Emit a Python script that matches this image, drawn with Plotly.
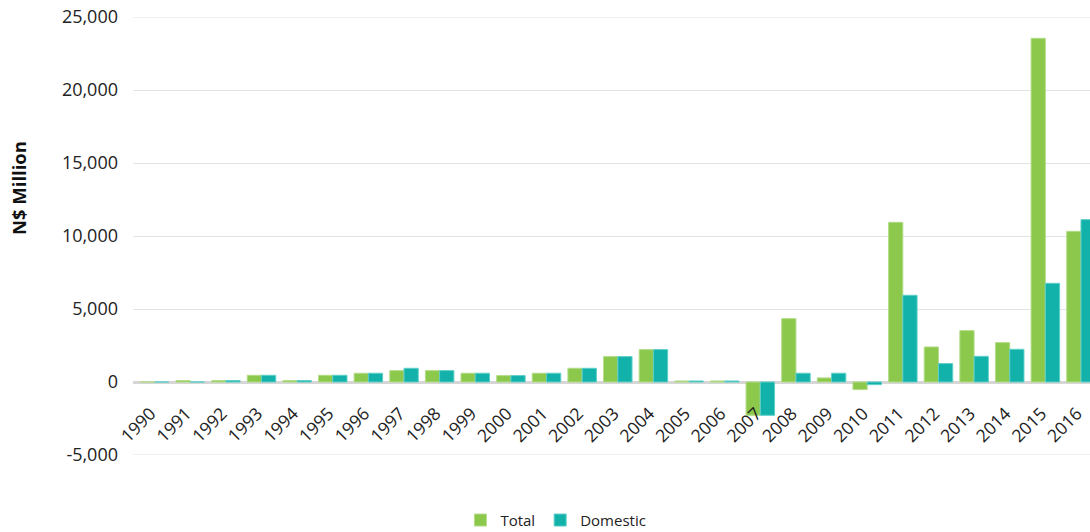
import plotly.graph_objects as go

years = [str(y) for y in range(1990, 2017)]
total = [0, 100, 100, 460, 100, 460, 600, 780, 780, 600, 440, 600, 940, 1740, 2220,
         70, 70, -2280, 4340, 280, -520, 10940, 2400, 3520, 2700, 23540, 10320]
domestic = [0, 0, 100, 460, 100, 460, 600, 940, 780, 600, 440, 600, 940, 1740, 2220,
            70, 70, -2280, 600, 600, -180, 5940, 1260, 1760, 2240, 6760, 11120]
y_ticks = [-5000, 0, 5000, 10000, 15000, 20000, 25000]
y_labels = ["-5,000", "0", "5,000", "10,000", "15,000", "20,000", "25,000"]

GREEN = "#8CC84B"
TEAL = "#12B1AA"
GRID = "#E3E3E3"
FONT = "Open Sans"
Y_MIN, Y_MAX = -5000, 25000

fig = go.Figure()
fig.add_trace(go.Bar(x=years, y=total, name="Total",
                     marker=dict(color=GREEN, line=dict(color="#B4DC8A", width=1))))
fig.add_trace(go.Bar(x=years, y=domestic, name="Domestic",
                     marker=dict(color=TEAL, line=dict(color="#5FCFC8", width=1))))

# gridlines at the range edges (plotly drops them)
for yv in (Y_MIN, Y_MAX):
    fig.add_shape(type="line", xref="paper", x0=0, x1=1, yref="y", y0=yv, y1=yv,
                  line=dict(color=GRID, width=1), layer="below")

fig.add_annotation(text="<b>N$ Million</b>", textangle=-90,
                   xref="paper", x=-0.119, xanchor="center",
                   yref="paper", y=0.6096, yanchor="middle",
                   showarrow=False,
                   font=dict(size=18.5, family=FONT, color="#111"))

fig.update_layout(
    width=1090, height=532,
    margin=dict(l=133, r=0, t=17, b=77, autoexpand=False),
    paper_bgcolor="white", plot_bgcolor="white",
    barmode="group", bargap=0.2, bargroupgap=0,
    font=dict(family=FONT, color="#222"),
    showlegend=True,
    legend=dict(orientation="h", xref="container", yref="container",
                x=0.51, xanchor="center", y=0.022, yanchor="middle",
                font=dict(size=15, family=FONT, color="#222"),
                itemwidth=30, traceorder="normal"),
    xaxis=dict(type="category", range=[-0.606, 26.253], anchor="free",
               position=(0 - Y_MIN) / (Y_MAX - Y_MIN), showline=False, ticks="",
               tickangle=-45, ticklabelstandoff=17, ticklabelshift=-4,
               automargin=False,
               tickfont=dict(size=17.5, family=FONT, color="#222"),
               showgrid=False, zeroline=False),
    yaxis=dict(range=[Y_MIN, Y_MAX], tickvals=y_ticks, ticktext=y_labels,
               showgrid=True, gridcolor=GRID, gridwidth=1, automargin=False,
               zeroline=True, zerolinecolor="#D6D6D6", zerolinewidth=3,
               tickfont=dict(size=18, family=FONT, color="#222"),
               ticklabelstandoff=14),
)

fig.write_html("out.html")
